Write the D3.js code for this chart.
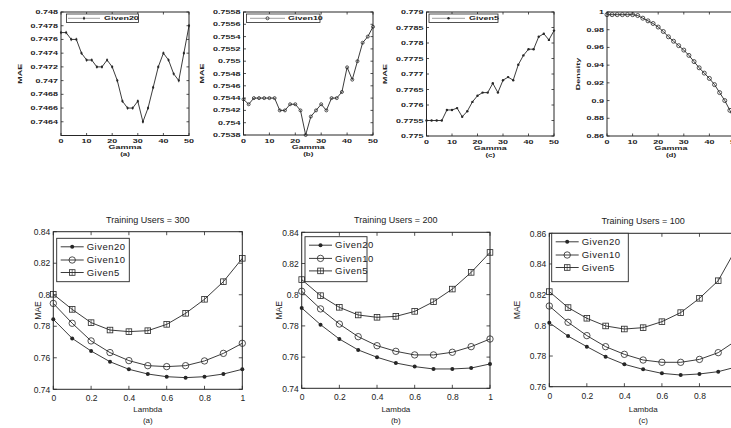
<!DOCTYPE html>
<html><head><meta charset="utf-8">
<script src="https://cdn.jsdelivr.net/npm/d3@7"></script>
<style>
html,body{margin:0;padding:0;background:#fff;}
svg{display:block;}
text{font-family:"Liberation Sans",Arial,Helvetica,sans-serif;fill:#222;}
</style></head>
<body>
<svg id="chart" width="731" height="428"></svg>
<script>
// ---------------- DATA ----------------
const gamma = [0,2,4,6,8,10,12,14,16,18,20,22,24,26,28,30,32,34,36,38,40,42,44,46,48,50];
const maeGiven20 = [0.7477,0.7477,0.7476,0.7476,0.7474,0.7473,0.7473,0.7472,0.7472,0.7473,0.7472,0.7470,0.7467,0.7466,0.7466,0.7467,0.7464,0.7466,0.7469,0.7472,0.7474,0.7473,0.7471,0.7470,0.7474,0.7478];
const maeGiven10 = [0.75438,0.7543,0.7544,0.7544,0.7544,0.7544,0.7544,0.7542,0.7542,0.7543,0.7543,0.7542,0.7538,0.7541,0.7542,0.7543,0.7542,0.7544,0.7544,0.7545,0.7549,0.7547,0.7550,0.7553,0.7554,0.75556];
const maeGiven5 = [0.7755,0.7755,0.7755,0.7755,0.77584,0.77584,0.7759,0.77562,0.7758,0.7761,0.7763,0.7764,0.7764,0.7767,0.7764,0.7768,0.7769,0.7768,0.7773,0.7776,0.7778,0.7778,0.7782,0.7783,0.7781,0.7784];
const density = [0.997,0.997,0.997,0.997,0.997,0.997,0.996,0.993,0.990,0.987,0.983,0.978,0.972,0.967,0.962,0.957,0.951,0.944,0.937,0.931,0.925,0.918,0.909,0.900,0.889,0.876];

const gammaTicks = [0,10,20,30,40,50];
const ticksTopA = [0.7464,0.7466,0.7468,0.747,0.7472,0.7474,0.7476,0.7478,0.748];
const ticksTopB = [0.7538,0.754,0.7542,0.7544,0.7546,0.7548,0.755,0.7552,0.7554,0.7556,0.7558];
const ticksTopC = [0.775,0.7755,0.776,0.7765,0.777,0.7775,0.778,0.7785,0.779];
const ticksTopD = [0.86,0.88,0.9,0.92,0.94,0.96,0.98,1];

const lambda = [0,0.1,0.2,0.3,0.4,0.5,0.6,0.7,0.8,0.9,1.0];
const u300Given20 = [0.7844,0.7723,0.7643,0.7575,0.7527,0.7497,0.7480,0.7474,0.7480,0.7497,0.7527];
const u300Given10 = [0.7945,0.7819,0.7707,0.7633,0.7582,0.7550,0.7544,0.7550,0.7580,0.7628,0.7692];
const u300Given5  = [0.8003,0.7907,0.7823,0.7776,0.7766,0.7772,0.7812,0.7882,0.7971,0.8083,0.8231];
const u200Given20 = [0.7915,0.7808,0.7716,0.7646,0.7599,0.7562,0.7539,0.7524,0.7524,0.7530,0.7556];
const u200Given10 = [0.8022,0.7909,0.7812,0.7731,0.7673,0.7637,0.7614,0.7614,0.7631,0.7667,0.7716];
const u200Given5  = [0.8097,0.7994,0.7919,0.7870,0.7855,0.7861,0.7893,0.7955,0.8036,0.8143,0.8271];
const u100Given20 = [0.8017,0.7930,0.7861,0.7796,0.7746,0.7713,0.7687,0.7676,0.7683,0.7698,0.7730];
const u100Given10 = [0.8126,0.8020,0.7933,0.7861,0.7811,0.7774,0.7759,0.7759,0.7778,0.7822,0.7904];
const u100Given5  = [0.8220,0.8116,0.8046,0.7996,0.7976,0.7985,0.8024,0.8083,0.8176,0.8291,0.8510];

const lambdaTicks = [0,0.2,0.4,0.6,0.8,1];
const ticksBot300 = [0.74,0.76,0.78,0.8,0.82,0.84];
const ticksBot200 = [0.74,0.76,0.78,0.8,0.82,0.84];
const ticksBot100 = [0.76,0.78,0.8,0.82,0.84,0.86];
const seriesNames = ["Given20","Given10","Given5"];

// ---------------- DRAWING ----------------
const svg = d3.select("#chart");
const INK = "#262626";
const fmt = d => String(+d.toFixed(4));

function drawMarker(g, type, x, y, s){
  if(type==="dot"){
    g.append("circle").attr("cx",x).attr("cy",y).attr("r",s).attr("fill",INK);
  } else if(type==="circle"){
    g.append("circle").attr("cx",x).attr("cy",y).attr("r",s).attr("fill","none").attr("stroke",INK).attr("stroke-width",0.8);
  } else if(type==="square"){
    g.append("rect").attr("x",x-s).attr("y",y-s).attr("width",2*s).attr("height",2*s).attr("fill","none").attr("stroke",INK).attr("stroke-width",0.8);
    g.append("line").attr("x1",x).attr("x2",x).attr("y1",y-s).attr("y2",y+s).attr("stroke",INK).attr("stroke-width",0.6);
  } else if(type==="star"){
    g.append("circle").attr("cx",x).attr("cy",y).attr("r",s).attr("fill",INK);
    g.append("line").attr("x1",x).attr("x2",x).attr("y1",y-s*1.6).attr("y2",y+s*1.6).attr("stroke",INK).attr("stroke-width",0.6);
  }
}

function frame(g, x, y, tlen, xt, yt){
  const [x0,x1] = x.range(), [y0,y1] = y.range(); // y0 bottom, y1 top
  g.append("rect").attr("x",x0).attr("y",y1).attr("width",x1-x0).attr("height",y0-y1)
    .attr("fill","none").attr("stroke",INK).attr("stroke-width",1);
  xt.forEach(t=>{
    const px = x(t);
    g.append("line").attr("x1",px).attr("x2",px).attr("y1",y0).attr("y2",y0-tlen).attr("stroke",INK).attr("stroke-width",0.8);
    g.append("line").attr("x1",px).attr("x2",px).attr("y1",y1).attr("y2",y1+tlen).attr("stroke",INK).attr("stroke-width",0.8);
  });
  yt.forEach(t=>{
    const py = y(t);
    g.append("line").attr("x1",x0).attr("x2",x0+tlen).attr("y1",py).attr("y2",py).attr("stroke",INK).attr("stroke-width",0.8);
    g.append("line").attr("x1",x1).attr("x2",x1-tlen).attr("y1",py).attr("y2",py).attr("stroke",INK).attr("stroke-width",0.8);
  });
}

// squashed small text used in the top row (wide, short glyphs)
function smallText(g, str, x, y, anchor, rot){
  const t = g.append("text").attr("transform",
      `translate(${x},${y})` + (rot?` rotate(${rot})`:"") + " scale(1.6,1)")
    .attr("text-anchor",anchor).attr("font-size",5.6).attr("font-weight","bold").text(str);
  return t;
}

// ---------- top row ----------
const topPanels = [
  {left:61, right:189, top:12, bottom:135.5, dom:[0.7462,0.748], ticks:ticksTopA, vals:maeGiven20, mk:"star", ms:1.1, ylab:"MAE", ylx:20, sub:"(a)", leg:{x0:66.5,x1:138.5,l0:68,l1:100,tx:104,name:seriesNames[0]}},
  {left:243.5, right:373, top:12, bottom:135, dom:[0.7538,0.7558], ticks:ticksTopB, vals:maeGiven10, mk:"circle", ms:1.5, ylab:"MAE", ylx:202, sub:"(b)", leg:{x0:246.5,x1:320,l0:250,l1:285,tx:288,name:seriesNames[1]}},
  {left:426.5, right:554, top:12, bottom:136, dom:[0.775,0.779], ticks:ticksTopC, vals:maeGiven5, mk:"dot", ms:1.2, ylab:"MAE", ylx:385, sub:"(c)", leg:{x0:429,x1:498,l0:432,l1:465,tx:469,name:seriesNames[2]}},
  {left:607, right:735, top:12, bottom:136, dom:[0.86,1], ticks:ticksTopD, vals:density, mk:"circle", ms:2, ylab:"Density", ylx:578, sub:"(d)", leg:null}
];

topPanels.forEach(p=>{
  const g = svg.append("g");
  const x = d3.scaleLinear().domain([0,50]).range([p.left,p.right]);
  const y = d3.scaleLinear().domain(p.dom).range([p.bottom,p.top]);
  frame(g, x, y, 2.5, gammaTicks, p.ticks);
  p.ticks.forEach(t=> smallText(g, fmt(t), p.left-3, y(t)+2, "end"));
  gammaTicks.forEach(t=> smallText(g, String(t), x(t), p.bottom+7.5, "middle"));
  smallText(g, "Gamma", (p.left+p.right)/2, p.bottom+13.5, "middle");
  smallText(g, p.sub, (p.left+p.right)/2, p.bottom+20.5, "middle").attr("font-size",5);
  smallText(g, p.ylab, p.ylx+2, (p.top+p.bottom)/2, "middle", -90);
  const line = d3.line().x((d,i)=>x(gamma[i])).y(d=>y(d));
  g.append("path").datum(p.vals).attr("d",line).attr("fill","none").attr("stroke",INK).attr("stroke-width",0.9);
  p.vals.forEach((v,i)=> drawMarker(g, p.mk, x(gamma[i]), y(v), p.ms));
  if(p.leg){
    const L = p.leg, ly = 18.3;
    g.append("rect").attr("x",L.x0).attr("y",14).attr("width",L.x1-L.x0).attr("height",8.5)
      .attr("fill","#fff").attr("stroke",INK).attr("stroke-width",0.8);
    g.append("line").attr("x1",L.l0).attr("x2",L.l1).attr("y1",ly).attr("y2",ly).attr("stroke","#888").attr("stroke-width",0.8);
    drawMarker(g, p.mk, (L.l0+L.l1)/2, ly, p.ms);
    smallText(g, L.name, L.tx, ly+2, "start");
  }
});

// ---------- bottom row ----------
const botPanels = [
  {left:53.3, right:242.3, top:231.7, bottom:389.3, dom:[0.74,0.84], ticks:ticksBot300, s:[u300Given20,u300Given10,u300Given5], title:"Training Users = 300", sub:"(a)", ylx:38, leg:{x0:56.7,x1:129.3,y0:238.3,y1:281.7}},
  {left:301.7, right:490, top:232.3, bottom:388.3, dom:[0.74,0.84], ticks:ticksBot200, s:[u200Given20,u200Given10,u200Given5], title:"Training Users = 200", sub:"(b)", ylx:279, leg:{x0:305,x1:367,y0:236.7,y1:281.7}},
  {left:549.3, right:737, top:233.3, bottom:386.7, dom:[0.76,0.86], ticks:ticksBot100, s:[u100Given20,u100Given10,u100Given5], title:"Training Users = 100", sub:"(c)", ylx:517, leg:{x0:551.7,x1:628.3,y0:233.3,y1:281.7}}
];
const botMarkers = [{t:"dot",s:2},{t:"circle",s:3.2},{t:"square",s:2.8}];

botPanels.forEach(p=>{
  const g = svg.append("g");
  const x = d3.scaleLinear().domain([0,1]).range([p.left,p.right]);
  const y = d3.scaleLinear().domain(p.dom).range([p.bottom,p.top]);
  frame(g, x, y, 3.5, lambdaTicks, p.ticks);
  const ax = d3.axisBottom(x).tickValues(lambdaTicks).tickSize(0).tickPadding(6).tickFormat(d=>String(+d.toFixed(1)));
  const gx = g.append("g").attr("transform",`translate(0,${p.bottom})`).call(ax);
  gx.select(".domain").remove();
  gx.selectAll("text").attr("font-size",8.5).attr("fill",INK).attr("font-family",null);
  const ay = d3.axisLeft(y).tickValues(p.ticks).tickSize(0).tickPadding(3).tickFormat(d=>String(+d.toFixed(2)));
  const gy = g.append("g").attr("transform",`translate(${p.left},0)`).call(ay);
  gy.select(".domain").remove();
  gy.selectAll("text").attr("font-size",8.5).attr("fill",INK).attr("font-family",null);
  const cx = (p.left+p.right)/2;
  g.append("text").attr("x",cx).attr("y",p.top-9).attr("text-anchor","middle").attr("font-size",9).text(p.title);
  g.append("text").attr("x",cx).attr("y",412).attr("text-anchor","middle").attr("font-size",8).text("Lambda");
  g.append("text").attr("x",cx).attr("y",423).attr("text-anchor","middle").attr("font-size",8).text(p.sub);
  g.append("text").attr("transform",`translate(${p.ylx+3},${(p.top+p.bottom)/2}) rotate(-90)`).attr("text-anchor","middle").attr("font-size",8.5).text("MAE");
  const line = d3.line().x((d,i)=>x(lambda[i])).y(d=>y(d));
  p.s.forEach((vals,k)=>{
    g.append("path").datum(vals).attr("d",line).attr("fill","none").attr("stroke",INK).attr("stroke-width",0.9);
    vals.forEach((v,i)=> drawMarker(g, botMarkers[k].t, x(lambda[i]), y(v), botMarkers[k].s));
  });
  const L = p.leg;
  g.append("rect").attr("x",L.x0).attr("y",L.y0).attr("width",L.x1-L.x0).attr("height",L.y1-L.y0)
    .attr("fill","#fff").attr("stroke",INK).attr("stroke-width",0.9);
  const rows = [L.y0+8.5, L.y0+21.7, L.y0+34.2];
  seriesNames.forEach((nm,k)=>{
    const l0 = L.x0+4, l1 = L.x0+27;
    g.append("line").attr("x1",l0).attr("x2",l1).attr("y1",rows[k]).attr("y2",rows[k]).attr("stroke",INK).attr("stroke-width",0.9);
    drawMarker(g, botMarkers[k].t, (l0+l1)/2, rows[k], botMarkers[k].s);
    g.append("text").attr("x",L.x0+30).attr("y",rows[k]+3.2).attr("font-size",9.5).attr("letter-spacing",0.5).text(nm);
  });
});
</script>
</body></html>
